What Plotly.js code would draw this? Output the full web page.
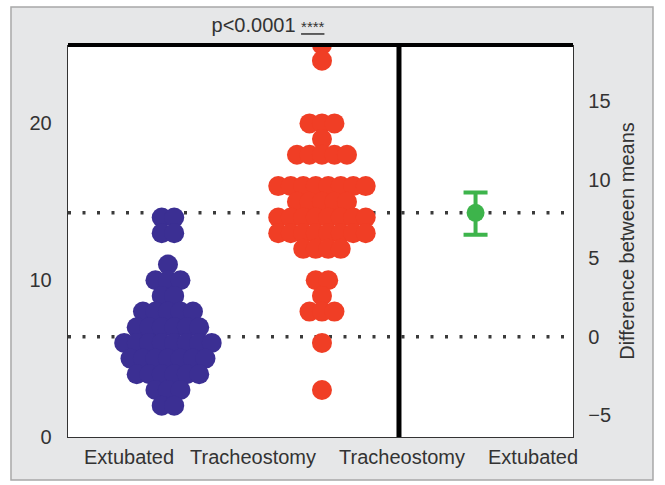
<!DOCTYPE html>
<html>
<head>
<meta charset="utf-8">
<script src="https://cdn.plot.ly/plotly-3.0.1.min.js"></script>
<style>html,body{margin:0;padding:0;background:#fff;}#chart{width:665px;height:485px;}</style>
</head>
<body>
<div id="chart"></div>
<script>
// ---- data ----
var groups = ['Extubated', 'Tracheostomy'];
var extubated = [14,14,13,13,11,10,10,10,9,9,8,8,8,8,8,7,7,7,7,7,7,
  6,6,6,6,6,6,6,6,5,5,5,5,5,5,5,4,4,4,4,4,4,3,3,3,2,2];
var tracheostomy = [25,24,20,20,20,19,18,18,18,18,18,16,16,16,16,16,16,16,16,
  15,15,15,15,15,14,14,14,14,14,14,14,14,13,13,13,13,13,13,13,13,12,12,12,12,
  10,10,9,8,8,8,6,3];
var meanExtubated = 6.4;
var meanTracheostomy = 14.3;
var diffMean = 7.9;
var diffCILow = 6.5;
var diffCIHigh = 9.2;
var categoryLabels = ['Extubated', 'Tracheostomy', 'Tracheostomy', 'Extubated'];
var leftTicks = [0, 10, 20];
var rightTicks = [-5, 0, 5, 10, 15];
var titleText = 'p&lt;0.0001 <span style="font-size:15px"><u>****</u></span>';
var rightAxisTitle = 'Difference between means';

// ---- layout helpers ----
var FONT = 'Liberation Sans, Arial, sans-serif';
var FS = 20;
var dotStep = 12.5 / 154; // horizontal spacing of equal values (x units)

function swarm(values, center) {
  var counts = {};
  values.forEach(function (v) { counts[v] = (counts[v] || 0) + 1; });
  var seen = {}, xs = [];
  values.forEach(function (v) {
    var n = counts[v];
    var i = seen[v] || 0;
    seen[v] = i + 1;
    xs.push(center + (i - (n - 1) / 2) * dotStep);
  });
  return xs;
}

var traces = [
  {
    type: 'scatter', mode: 'markers', xaxis: 'x', yaxis: 'y',
    x: swarm(extubated, 0), y: extubated,
    marker: { color: '#3b2f93', size: 20, line: { width: 0 } },
    hoverinfo: 'skip', showlegend: false
  },
  {
    type: 'scatter', mode: 'markers', xaxis: 'x', yaxis: 'y',
    x: swarm(tracheostomy, 1), y: tracheostomy,
    marker: { color: '#f03e25', size: 20, line: { width: 0 } },
    hoverinfo: 'skip', showlegend: false
  },
  {
    type: 'scatter', mode: 'markers', xaxis: 'x2', yaxis: 'y2',
    x: [0], y: [diffMean],
    marker: { color: '#3db44b', size: 18, line: { width: 0 } },
    error_y: {
      type: 'data', symmetric: false,
      array: [diffCIHigh - diffMean], arrayminus: [diffMean - diffCILow],
      color: '#3db44b', thickness: 4, width: 12
    },
    hoverinfo: 'skip', showlegend: false
  }
];

var divider = 0.6554;
var labelX = [0.1208, 0.3663, 0.6614, 0.9208];
var annotations = categoryLabels.map(function (t, i) {
  return {
    text: t, xref: 'paper', yref: 'paper', x: labelX[i], y: 0,
    xanchor: 'center', yanchor: 'top', yshift: -7, showarrow: false,
    font: { family: FONT, size: FS, color: '#333' }
  };
});

var layout = {
  width: 665, height: 485,
  margin: { l: 68, r: 92, t: 45, b: 48, pad: 0 },
  paper_bgcolor: '#ffffff',
  plot_bgcolor: 'rgba(0,0,0,0)',
  font: { family: FONT, size: FS, color: '#333' },
  title: {
    text: titleText, xref: 'paper', yref: 'container',
    x: 0.396, y: 0.948, xanchor: 'center', yanchor: 'middle',
    font: { family: FONT, size: FS, color: '#333' }
  },
  xaxis: {
    domain: [0, divider], range: [-0.649, 1.5],
    showline: true, linecolor: '#333', linewidth: 1.3,
    showgrid: false, zeroline: false, showticklabels: false, ticks: ''
  },
  yaxis: {
    range: [0, 25], anchor: 'x',
    tickvals: leftTicks, ticks: '', ticklabelstandoff: 11,
    showline: true, linecolor: '#333', linewidth: 1.3,
    showgrid: false, zeroline: false,
    tickfont: { family: FONT, size: FS, color: '#333' }
  },
  xaxis2: {
    domain: [divider, 1], range: [-0.44, 0.56], anchor: 'y2',
    showline: true, linecolor: '#333', linewidth: 1.3,
    showgrid: false, zeroline: false, showticklabels: false, ticks: ''
  },
  yaxis2: {
    range: [0 - meanExtubated, 25 - meanExtubated], anchor: 'x2', side: 'right',
    tickvals: rightTicks, ticks: '', ticklabelstandoff: 10,
    showline: true, linecolor: '#333', linewidth: 1.3,
    showgrid: false, zeroline: false,
    tickfont: { family: FONT, size: FS, color: '#333' },
    title: { text: rightAxisTitle, standoff: 10, font: { family: FONT, size: FS, color: '#333' } }
  },
  shapes: [
    { type: 'rect', xref: 'paper', yref: 'paper', x0: -0.1129, x1: 1.1584, y0: -0.1097, y1: 1.0969,
      fillcolor: '#e6e7e8', line: { color: '#a8a8a8', width: 1.5 }, layer: 'below' },
    { type: 'rect', xref: 'paper', yref: 'paper', x0: 0, x1: 1, y0: 0, y1: 1,
      fillcolor: '#ffffff', line: { width: 0 }, layer: 'below' },
    { type: 'line', xref: 'paper', yref: 'y', x0: 0, x1: 1, y0: meanTracheostomy, y1: meanTracheostomy,
      line: { color: '#3a3a3a', width: 3.5, dash: '3px,11.5px' }, layer: 'below' },
    { type: 'line', xref: 'paper', yref: 'y', x0: 0, x1: 1, y0: meanExtubated, y1: meanExtubated,
      line: { color: '#3a3a3a', width: 3.5, dash: '3px,11.5px' }, layer: 'below' },
    { type: 'line', xref: 'paper', yref: 'paper', x0: 0, x1: 1, y0: 1, y1: 1,
      line: { color: '#000', width: 4 }, layer: 'above' },
    { type: 'line', xref: 'paper', yref: 'paper', x0: divider, x1: divider, y0: 0, y1: 1,
      line: { color: '#000', width: 5 }, layer: 'above' }
  ],
  annotations: annotations
};

Plotly.newPlot('chart', traces, layout, { staticPlot: true, displayModeBar: false });
</script>
</body>
</html>
